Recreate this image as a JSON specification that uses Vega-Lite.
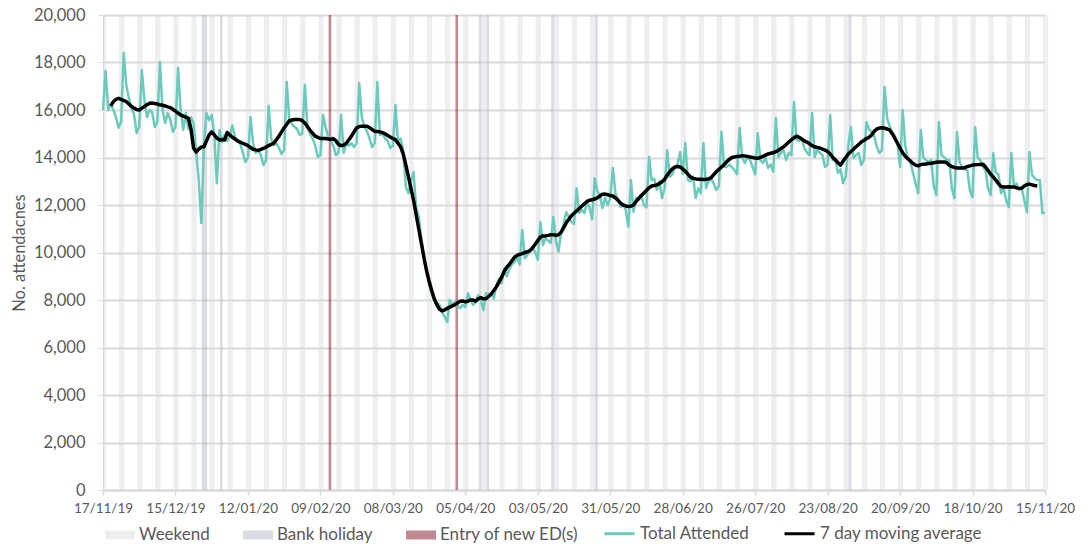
{
"$schema": "https://vega.github.io/schema/vega-lite/v6.json",
"width": 942,
"height": 475,
"autosize": {"type": "none"},
"padding": {"left": 103, "top": 15, "right": 45, "bottom": 55},
"background": "white",
"config": {
  "font": "Lato",
  "view": {"stroke": null},
  "axis": {"labelFont": "Lato", "titleFont": "Lato", "labelColor": "#595959", "titleColor": "#595959", "domainColor": "#d9d9d9", "tickColor": "#d9d9d9", "gridColor": "#d9d9d9"},
  "legend": {"labelFont": "Lato", "labelFontSize": 17, "labelColor": "#595959", "labelOffset": 4, "labelLimit": 400, "columnPadding": 28, "symbolSize": 900, "padding": 0}
},
"datasets": {
"days": [
{"d":"2019-11-17","t":16000},{"d":"2019-11-18","t":17650},{"d":"2019-11-19","t":16000},{"d":"2019-11-20","t":16250,"m":16170},{"d":"2019-11-21","t":16000,"m":16350},{"d":"2019-11-22","t":15700,"m":16450},{"d":"2019-11-23","t":15250,"m":16490},{"d":"2019-11-24","t":15500,"m":16450},{"d":"2019-11-25","t":18400,"m":16400},{"d":"2019-11-26","t":17050,"m":16350},{"d":"2019-11-27","t":16500,"m":16250},{"d":"2019-11-28","t":16100,"m":16150},{"d":"2019-11-29","t":15800,"m":16080},{"d":"2019-11-30","t":15030,"m":16020},
{"d":"2019-12-01","t":15300,"m":16000},{"d":"2019-12-02","t":17680,"m":16080},{"d":"2019-12-03","t":16420,"m":16150},{"d":"2019-12-04","t":15700,"m":16220},{"d":"2019-12-05","t":16000,"m":16280},{"d":"2019-12-06","t":15900,"m":16290},{"d":"2019-12-07","t":15280,"m":16270},{"d":"2019-12-08","t":15500,"m":16250},{"d":"2019-12-09","t":18020,"m":16220},{"d":"2019-12-10","t":16000,"m":16200},{"d":"2019-12-11","t":15450,"m":16170},{"d":"2019-12-12","t":15870,"m":16130},{"d":"2019-12-13","t":15600,"m":16100},{"d":"2019-12-14","t":15080,"m":16030},{"d":"2019-12-15","t":15300,"m":15950},{"d":"2019-12-16","t":17770,"m":15870},{"d":"2019-12-17","t":16000,"m":15790},{"d":"2019-12-18","t":15160,"m":15740},{"d":"2019-12-19","t":15870,"m":15700},{"d":"2019-12-20","t":15200,"m":15650},{"d":"2019-12-21","t":15700,"m":15200},{"d":"2019-12-22","t":15450,"m":14400},{"d":"2019-12-23","t":14230,"m":14230},{"d":"2019-12-24","t":13050,"m":14350},{"d":"2019-12-25","t":11240,"m":14440},{"d":"2019-12-26","t":14520,"m":14450},{"d":"2019-12-27","t":15870,"m":14700},{"d":"2019-12-28","t":15580,"m":14950},{"d":"2019-12-29","t":15790,"m":15080},{"d":"2019-12-30","t":14950,"m":14950},{"d":"2019-12-31","t":12920,"m":14820},
{"d":"2020-01-01","t":15160,"m":14740},{"d":"2020-01-02","t":14650,"m":14760},{"d":"2020-01-03","t":14950,"m":14740},{"d":"2020-01-04","t":14700,"m":15050},{"d":"2020-01-05","t":14900,"m":14950},{"d":"2020-01-06","t":15350,"m":14850},{"d":"2020-01-07","t":14860,"m":14780},{"d":"2020-01-08","t":14700,"m":14700},{"d":"2020-01-09","t":14600,"m":14650},{"d":"2020-01-10","t":14230,"m":14600},{"d":"2020-01-11","t":13810,"m":14550},{"d":"2020-01-12","t":14000,"m":14500},{"d":"2020-01-13","t":15700,"m":14420},{"d":"2020-01-14","t":14600,"m":14350},{"d":"2020-01-15","t":14190,"m":14320},{"d":"2020-01-16","t":14300,"m":14300},{"d":"2020-01-17","t":14100,"m":14340},{"d":"2020-01-18","t":13680,"m":14380},{"d":"2020-01-19","t":13900,"m":14440},{"d":"2020-01-20","t":16170,"m":14500},{"d":"2020-01-21","t":14800,"m":14550},{"d":"2020-01-22","t":14520,"m":14600},{"d":"2020-01-23","t":14600,"m":14750},{"d":"2020-01-24","t":14400,"m":14900},{"d":"2020-01-25","t":14150,"m":15080},{"d":"2020-01-26","t":14300,"m":15250},{"d":"2020-01-27","t":17180,"m":15400},{"d":"2020-01-28","t":15580,"m":15550},{"d":"2020-01-29","t":15400,"m":15580},{"d":"2020-01-30","t":15300,"m":15600},{"d":"2020-01-31","t":15200,"m":15600},
{"d":"2020-02-01","t":14950,"m":15600},{"d":"2020-02-02","t":15000,"m":15550},{"d":"2020-02-03","t":17050,"m":15450},{"d":"2020-02-04","t":15280,"m":15300},{"d":"2020-02-05","t":15000,"m":15150},{"d":"2020-02-06","t":14800,"m":15020},{"d":"2020-02-07","t":14500,"m":14900},{"d":"2020-02-08","t":14020,"m":14850},{"d":"2020-02-09","t":14100,"m":14800},{"d":"2020-02-10","t":15790,"m":14800},{"d":"2020-02-11","t":15280,"m":14800},{"d":"2020-02-12","t":14900,"m":14780},{"d":"2020-02-13","t":14700,"m":14760},{"d":"2020-02-14","t":14500,"m":14800},{"d":"2020-02-15","t":14100,"m":14700},{"d":"2020-02-16","t":14200,"m":14550},{"d":"2020-02-17","t":15790,"m":14500},{"d":"2020-02-18","t":14190,"m":14520},{"d":"2020-02-19","t":14600,"m":14600},{"d":"2020-02-20","t":14500,"m":14750},{"d":"2020-02-21","t":14600,"m":14900},{"d":"2020-02-22","t":14440,"m":15080},{"d":"2020-02-23","t":14600,"m":15250},{"d":"2020-02-24","t":17130,"m":15300},{"d":"2020-02-25","t":15700,"m":15320},{"d":"2020-02-26","t":15300,"m":15320},{"d":"2020-02-27","t":15100,"m":15320},{"d":"2020-02-28","t":14800,"m":15250},{"d":"2020-02-29","t":14440,"m":15180},
{"d":"2020-03-01","t":14600,"m":15100},{"d":"2020-03-02","t":17180,"m":15090},{"d":"2020-03-03","t":14950,"m":15080},{"d":"2020-03-04","t":15000,"m":15050},{"d":"2020-03-05","t":14800,"m":15000},{"d":"2020-03-06","t":14700,"m":14930},{"d":"2020-03-07","t":14400,"m":14860},{"d":"2020-03-08","t":14500,"m":14800},{"d":"2020-03-09","t":16210,"m":14750},{"d":"2020-03-10","t":14600,"m":14600},{"d":"2020-03-11","t":14800,"m":14450},{"d":"2020-03-12","t":14300,"m":14150},{"d":"2020-03-13","t":12770,"m":13700},{"d":"2020-03-14","t":12500,"m":13200},{"d":"2020-03-15","t":13000,"m":12700},{"d":"2020-03-16","t":13390,"m":12200},{"d":"2020-03-17","t":11900,"m":11600},{"d":"2020-03-18","t":11500,"m":11000},{"d":"2020-03-19","t":10600,"m":10400},{"d":"2020-03-20","t":9810,"m":9800},{"d":"2020-03-21","t":9200,"m":9250},{"d":"2020-03-22","t":8700,"m":8800},{"d":"2020-03-23","t":8290,"m":8400},{"d":"2020-03-24","t":8000,"m":8050},{"d":"2020-03-25","t":7900,"m":7800},{"d":"2020-03-26","t":7790,"m":7620},{"d":"2020-03-27","t":7500,"m":7540},{"d":"2020-03-28","t":7300,"m":7580},{"d":"2020-03-29","t":7070,"m":7650},{"d":"2020-03-30","t":8000,"m":7700},{"d":"2020-03-31","t":7800,"m":7750},
{"d":"2020-04-01","t":7900,"m":7800},{"d":"2020-04-02","t":7750,"m":7870},{"d":"2020-04-03","t":7660,"m":7950},{"d":"2020-04-04","t":7800,"m":7960},{"d":"2020-04-05","t":7700,"m":7920},{"d":"2020-04-06","t":8290,"m":7950},{"d":"2020-04-07","t":8000,"m":8000},{"d":"2020-04-08","t":7790,"m":8000},{"d":"2020-04-09","t":7900,"m":7950},{"d":"2020-04-10","t":8210,"m":8050},{"d":"2020-04-11","t":8000,"m":8100},{"d":"2020-04-12","t":7580,"m":8050},{"d":"2020-04-13","t":8290,"m":8050},{"d":"2020-04-14","t":8200,"m":8150},{"d":"2020-04-15","t":8300,"m":8250},{"d":"2020-04-16","t":8050,"m":8400},{"d":"2020-04-17","t":8600,"m":8550},{"d":"2020-04-18","t":8900,"m":8750},{"d":"2020-04-19","t":8700,"m":8950},{"d":"2020-04-20","t":9300,"m":9200},{"d":"2020-04-21","t":9000,"m":9380},{"d":"2020-04-22","t":9300,"m":9500},{"d":"2020-04-23","t":9500,"m":9650},{"d":"2020-04-24","t":9600,"m":9800},{"d":"2020-04-25","t":9810,"m":9880},{"d":"2020-04-26","t":9500,"m":9920},{"d":"2020-04-27","t":10950,"m":9950},{"d":"2020-04-28","t":9760,"m":10000},{"d":"2020-04-29","t":9900,"m":10030},{"d":"2020-04-30","t":10100,"m":10080},
{"d":"2020-05-01","t":10200,"m":10200},{"d":"2020-05-02","t":10000,"m":10350},{"d":"2020-05-03","t":9700,"m":10500},{"d":"2020-05-04","t":11280,"m":10650},{"d":"2020-05-05","t":10310,"m":10700},{"d":"2020-05-06","t":10600,"m":10700},{"d":"2020-05-07","t":10500,"m":10720},{"d":"2020-05-08","t":10400,"m":10750},{"d":"2020-05-09","t":11500,"m":10750},{"d":"2020-05-10","t":10500,"m":10720},{"d":"2020-05-11","t":10030,"m":10750},{"d":"2020-05-12","t":10820,"m":10850},{"d":"2020-05-13","t":11200,"m":11050},{"d":"2020-05-14","t":11700,"m":11250},{"d":"2020-05-15","t":11500,"m":11400},{"d":"2020-05-16","t":11300,"m":11550},{"d":"2020-05-17","t":11200,"m":11650},{"d":"2020-05-18","t":12710,"m":11750},{"d":"2020-05-19","t":11660,"m":11850},{"d":"2020-05-20","t":11800,"m":11950},{"d":"2020-05-21","t":11660,"m":12050},{"d":"2020-05-22","t":12100,"m":12150},{"d":"2020-05-23","t":11900,"m":12200},{"d":"2020-05-24","t":11400,"m":12220},{"d":"2020-05-25","t":13130,"m":12250},{"d":"2020-05-26","t":12600,"m":12300},{"d":"2020-05-27","t":12400,"m":12380},{"d":"2020-05-28","t":11870,"m":12450},{"d":"2020-05-29","t":12300,"m":12460},{"d":"2020-05-30","t":12000,"m":12430},{"d":"2020-05-31","t":12290,"m":12400},
{"d":"2020-06-01","t":13560,"m":12380},{"d":"2020-06-02","t":12500,"m":12300},{"d":"2020-06-03","t":12200,"m":12200},{"d":"2020-06-04","t":11920,"m":12080},{"d":"2020-06-05","t":12000,"m":12000},{"d":"2020-06-06","t":11790,"m":11960},{"d":"2020-06-07","t":11080,"m":11940},{"d":"2020-06-08","t":13050,"m":11950},{"d":"2020-06-09","t":11720,"m":12000},{"d":"2020-06-10","t":12300,"m":12150},{"d":"2020-06-11","t":12200,"m":12280},{"d":"2020-06-12","t":12400,"m":12400},{"d":"2020-06-13","t":12000,"m":12500},{"d":"2020-06-14","t":11900,"m":12620},{"d":"2020-06-15","t":14020,"m":12720},{"d":"2020-06-16","t":13050,"m":12800},{"d":"2020-06-17","t":13100,"m":12820},{"d":"2020-06-18","t":12630,"m":12850},{"d":"2020-06-19","t":13000,"m":12900},{"d":"2020-06-20","t":12290,"m":12980},{"d":"2020-06-21","t":12700,"m":13080},{"d":"2020-06-22","t":14310,"m":13250},{"d":"2020-06-23","t":13180,"m":13400},{"d":"2020-06-24","t":13300,"m":13520},{"d":"2020-06-25","t":13560,"m":13600},{"d":"2020-06-26","t":13700,"m":13620},{"d":"2020-06-27","t":14230,"m":13600},{"d":"2020-06-28","t":13300,"m":13520},{"d":"2020-06-29","t":14610,"m":13420},{"d":"2020-06-30","t":13050,"m":13300},
{"d":"2020-07-01","t":13000,"m":13180},{"d":"2020-07-02","t":13200,"m":13120},{"d":"2020-07-03","t":12290,"m":13100},{"d":"2020-07-04","t":12700,"m":13080},{"d":"2020-07-05","t":12500,"m":13080},{"d":"2020-07-06","t":14610,"m":13070},{"d":"2020-07-07","t":12710,"m":13080},{"d":"2020-07-08","t":13000,"m":13100},{"d":"2020-07-09","t":13100,"m":13150},{"d":"2020-07-10","t":12900,"m":13280},{"d":"2020-07-11","t":12630,"m":13400},{"d":"2020-07-12","t":12800,"m":13500},{"d":"2020-07-13","t":15080,"m":13600},{"d":"2020-07-14","t":13600,"m":13700},{"d":"2020-07-15","t":13600,"m":13820},{"d":"2020-07-16","t":13700,"m":13920},{"d":"2020-07-17","t":13600,"m":14000},{"d":"2020-07-18","t":13470,"m":14020},{"d":"2020-07-19","t":13300,"m":14040},{"d":"2020-07-20","t":15240,"m":14050},{"d":"2020-07-21","t":14000,"m":14080},{"d":"2020-07-22","t":13770,"m":14060},{"d":"2020-07-23","t":14000,"m":14050},{"d":"2020-07-24","t":13900,"m":14020},{"d":"2020-07-25","t":13600,"m":14000},{"d":"2020-07-26","t":13300,"m":13980},{"d":"2020-07-27","t":15030,"m":13970},{"d":"2020-07-28","t":13900,"m":14000},{"d":"2020-07-29","t":13770,"m":14050},{"d":"2020-07-30","t":14000,"m":14100},{"d":"2020-07-31","t":13560,"m":14150},
{"d":"2020-08-01","t":13700,"m":14180},{"d":"2020-08-02","t":13400,"m":14200},{"d":"2020-08-03","t":15660,"m":14250},{"d":"2020-08-04","t":14020,"m":14300},{"d":"2020-08-05","t":14200,"m":14380},{"d":"2020-08-06","t":14300,"m":14450},{"d":"2020-08-07","t":13890,"m":14550},{"d":"2020-08-08","t":14200,"m":14650},{"d":"2020-08-09","t":14100,"m":14750},{"d":"2020-08-10","t":16340,"m":14830},{"d":"2020-08-11","t":14740,"m":14900},{"d":"2020-08-12","t":14700,"m":14850},{"d":"2020-08-13","t":14800,"m":14780},{"d":"2020-08-14","t":14400,"m":14700},{"d":"2020-08-15","t":14200,"m":14650},{"d":"2020-08-16","t":14100,"m":14580},{"d":"2020-08-17","t":15870,"m":14500},{"d":"2020-08-18","t":14020,"m":14450},{"d":"2020-08-19","t":14300,"m":14420},{"d":"2020-08-20","t":14200,"m":14400},{"d":"2020-08-21","t":14100,"m":14350},{"d":"2020-08-22","t":13600,"m":14310},{"d":"2020-08-23","t":13700,"m":14250},{"d":"2020-08-24","t":15790,"m":14150},{"d":"2020-08-25","t":13890,"m":14000},{"d":"2020-08-26","t":13900,"m":13900},{"d":"2020-08-27","t":13350,"m":13780},{"d":"2020-08-28","t":13500,"m":13680},{"d":"2020-08-29","t":12920,"m":13850},{"d":"2020-08-30","t":13200,"m":14000},{"d":"2020-08-31","t":14500,"m":14150},
{"d":"2020-09-01","t":15280,"m":14250},{"d":"2020-09-02","t":13980,"m":14350},{"d":"2020-09-03","t":14100,"m":14450},{"d":"2020-09-04","t":14190,"m":14550},{"d":"2020-09-05","t":13680,"m":14650},{"d":"2020-09-06","t":13900,"m":14720},{"d":"2020-09-07","t":15490,"m":14800},{"d":"2020-09-08","t":15200,"m":14850},{"d":"2020-09-09","t":15070,"m":14950},{"d":"2020-09-10","t":14900,"m":15100},{"d":"2020-09-11","t":14450,"m":15200},{"d":"2020-09-12","t":14190,"m":15240},{"d":"2020-09-13","t":14300,"m":15250},{"d":"2020-09-14","t":16970,"m":15240},{"d":"2020-09-15","t":15660,"m":15200},{"d":"2020-09-16","t":15300,"m":15150},{"d":"2020-09-17","t":15070,"m":15000},{"d":"2020-09-18","t":14900,"m":14800},{"d":"2020-09-19","t":14600,"m":14600},{"d":"2020-09-20","t":13600,"m":14400},{"d":"2020-09-21","t":16000,"m":14200},{"d":"2020-09-22","t":14500,"m":14050},{"d":"2020-09-23","t":13980,"m":13950},{"d":"2020-09-24","t":13800,"m":13850},{"d":"2020-09-25","t":13350,"m":13750},{"d":"2020-09-26","t":12900,"m":13680},{"d":"2020-09-27","t":12500,"m":13650},{"d":"2020-09-28","t":15160,"m":13700},{"d":"2020-09-29","t":14000,"m":13720},{"d":"2020-09-30","t":13890,"m":13730},
{"d":"2020-10-01","t":13800,"m":13750},{"d":"2020-10-02","t":13890,"m":13760},{"d":"2020-10-03","t":12800,"m":13780},{"d":"2020-10-04","t":12420,"m":13800},{"d":"2020-10-05","t":15490,"m":13810},{"d":"2020-10-06","t":14100,"m":13810},{"d":"2020-10-07","t":14020,"m":13810},{"d":"2020-10-08","t":13900,"m":13780},{"d":"2020-10-09","t":13890,"m":13680},{"d":"2020-10-10","t":12700,"m":13620},{"d":"2020-10-11","t":12290,"m":13580},{"d":"2020-10-12","t":15070,"m":13560},{"d":"2020-10-13","t":13800,"m":13560},{"d":"2020-10-14","t":13600,"m":13560},{"d":"2020-10-15","t":13500,"m":13570},{"d":"2020-10-16","t":13470,"m":13620},{"d":"2020-10-17","t":12600,"m":13650},{"d":"2020-10-18","t":12330,"m":13680},{"d":"2020-10-19","t":15280,"m":13690},{"d":"2020-10-20","t":14000,"m":13700},{"d":"2020-10-21","t":13890,"m":13710},{"d":"2020-10-22","t":13600,"m":13720},{"d":"2020-10-23","t":13470,"m":13600},{"d":"2020-10-24","t":12700,"m":13450},{"d":"2020-10-25","t":12420,"m":13300},{"d":"2020-10-26","t":14190,"m":13180},{"d":"2020-10-27","t":13350,"m":13050},{"d":"2020-10-28","t":13300,"m":12900},{"d":"2020-10-29","t":12500,"m":12780},{"d":"2020-10-30","t":12700,"m":12760},{"d":"2020-10-31","t":12200,"m":12760},
{"d":"2020-11-01","t":11910,"m":12770},{"d":"2020-11-02","t":14190,"m":12760},{"d":"2020-11-03","t":12760,"m":12760},{"d":"2020-11-04","t":12900,"m":12720},{"d":"2020-11-05","t":12630,"m":12700},{"d":"2020-11-06","t":12700,"m":12710},{"d":"2020-11-07","t":12200,"m":12800},{"d":"2020-11-08","t":11700,"m":12860},{"d":"2020-11-09","t":14230,"m":12880},{"d":"2020-11-10","t":13260,"m":12850},{"d":"2020-11-11","t":13130,"m":12820},{"d":"2020-11-12","t":13050,"m":12800},{"d":"2020-11-13","t":13050},{"d":"2020-11-14","t":11660},{"d":"2020-11-15","t":11660}
],
"bands": [
{"d":"2019-11-17","k":"Weekend"},{"d":"2019-11-23","k":"Weekend"},{"d":"2019-11-24","k":"Weekend"},{"d":"2019-11-30","k":"Weekend"},{"d":"2019-12-01","k":"Weekend"},{"d":"2019-12-07","k":"Weekend"},{"d":"2019-12-08","k":"Weekend"},{"d":"2019-12-14","k":"Weekend"},{"d":"2019-12-15","k":"Weekend"},{"d":"2019-12-21","k":"Weekend"},{"d":"2019-12-22","k":"Weekend"},{"d":"2019-12-28","k":"Weekend"},{"d":"2019-12-29","k":"Weekend"},{"d":"2020-01-04","k":"Weekend"},{"d":"2020-01-05","k":"Weekend"},{"d":"2020-01-11","k":"Weekend"},{"d":"2020-01-12","k":"Weekend"},{"d":"2020-01-18","k":"Weekend"},{"d":"2020-01-19","k":"Weekend"},{"d":"2020-01-25","k":"Weekend"},{"d":"2020-01-26","k":"Weekend"},{"d":"2020-02-01","k":"Weekend"},{"d":"2020-02-02","k":"Weekend"},{"d":"2020-02-08","k":"Weekend"},{"d":"2020-02-09","k":"Weekend"},{"d":"2020-02-15","k":"Weekend"},{"d":"2020-02-16","k":"Weekend"},{"d":"2020-02-22","k":"Weekend"},{"d":"2020-02-23","k":"Weekend"},{"d":"2020-02-29","k":"Weekend"},{"d":"2020-03-01","k":"Weekend"},{"d":"2020-03-07","k":"Weekend"},{"d":"2020-03-08","k":"Weekend"},{"d":"2020-03-14","k":"Weekend"},{"d":"2020-03-15","k":"Weekend"},{"d":"2020-03-21","k":"Weekend"},{"d":"2020-03-22","k":"Weekend"},{"d":"2020-03-28","k":"Weekend"},{"d":"2020-03-29","k":"Weekend"},{"d":"2020-04-04","k":"Weekend"},{"d":"2020-04-05","k":"Weekend"},{"d":"2020-04-11","k":"Weekend"},{"d":"2020-04-12","k":"Weekend"},{"d":"2020-04-18","k":"Weekend"},{"d":"2020-04-19","k":"Weekend"},{"d":"2020-04-25","k":"Weekend"},{"d":"2020-04-26","k":"Weekend"},{"d":"2020-05-02","k":"Weekend"},{"d":"2020-05-03","k":"Weekend"},{"d":"2020-05-09","k":"Weekend"},{"d":"2020-05-10","k":"Weekend"},{"d":"2020-05-16","k":"Weekend"},{"d":"2020-05-17","k":"Weekend"},{"d":"2020-05-23","k":"Weekend"},{"d":"2020-05-24","k":"Weekend"},{"d":"2020-05-30","k":"Weekend"},{"d":"2020-05-31","k":"Weekend"},{"d":"2020-06-06","k":"Weekend"},{"d":"2020-06-07","k":"Weekend"},{"d":"2020-06-13","k":"Weekend"},{"d":"2020-06-14","k":"Weekend"},{"d":"2020-06-20","k":"Weekend"},{"d":"2020-06-21","k":"Weekend"},{"d":"2020-06-27","k":"Weekend"},{"d":"2020-06-28","k":"Weekend"},{"d":"2020-07-04","k":"Weekend"},{"d":"2020-07-05","k":"Weekend"},{"d":"2020-07-11","k":"Weekend"},{"d":"2020-07-12","k":"Weekend"},{"d":"2020-07-18","k":"Weekend"},{"d":"2020-07-19","k":"Weekend"},{"d":"2020-07-25","k":"Weekend"},{"d":"2020-07-26","k":"Weekend"},{"d":"2020-08-01","k":"Weekend"},{"d":"2020-08-02","k":"Weekend"},{"d":"2020-08-08","k":"Weekend"},{"d":"2020-08-09","k":"Weekend"},{"d":"2020-08-15","k":"Weekend"},{"d":"2020-08-16","k":"Weekend"},{"d":"2020-08-22","k":"Weekend"},{"d":"2020-08-23","k":"Weekend"},{"d":"2020-08-29","k":"Weekend"},{"d":"2020-08-30","k":"Weekend"},{"d":"2020-09-05","k":"Weekend"},{"d":"2020-09-06","k":"Weekend"},{"d":"2020-09-12","k":"Weekend"},{"d":"2020-09-13","k":"Weekend"},{"d":"2020-09-19","k":"Weekend"},{"d":"2020-09-20","k":"Weekend"},{"d":"2020-09-26","k":"Weekend"},{"d":"2020-09-27","k":"Weekend"},{"d":"2020-10-03","k":"Weekend"},{"d":"2020-10-04","k":"Weekend"},{"d":"2020-10-10","k":"Weekend"},{"d":"2020-10-11","k":"Weekend"},{"d":"2020-10-17","k":"Weekend"},{"d":"2020-10-18","k":"Weekend"},{"d":"2020-10-24","k":"Weekend"},{"d":"2020-10-25","k":"Weekend"},{"d":"2020-10-31","k":"Weekend"},{"d":"2020-11-01","k":"Weekend"},{"d":"2020-11-07","k":"Weekend"},{"d":"2020-11-08","k":"Weekend"},{"d":"2020-11-14","k":"Weekend"},{"d":"2020-11-15","k":"Weekend"},
{"d":"2019-12-25","k":"Bank holiday"},{"d":"2019-12-26","k":"Bank holiday"},{"d":"2020-01-01","k":"Bank holiday"},{"d":"2020-04-10","k":"Bank holiday"},{"d":"2020-04-13","k":"Bank holiday"},{"d":"2020-05-08","k":"Bank holiday"},{"d":"2020-05-25","k":"Bank holiday"},{"d":"2020-08-31","k":"Bank holiday"},
{"d":"2020-02-12","k":"Entry of new ED(s)"},{"d":"2020-04-01","k":"Entry of new ED(s)"}
]
},
"layer": [
{
  "data": {"name": "bands"},
  "mark": {"type": "bar", "opacity": 0.5, "binSpacing": 0},
  "encoding": {
    "x": {"field": "d", "type": "temporal", "timeUnit": "utcyearmonthdate",
      "scale": {"type": "utc", "domain": [{"year": 2019, "month": 11, "date": 17, "utc": true}, {"year": 2020, "month": 11, "date": 15, "utc": true}]},
      "axis": {"title": null, "format": "%d/%m/%y", "grid": false, "labelFontSize": 13.5, "labelPadding": 6, "tickSize": 5, "tickWidth": 1.5, "domainWidth": 2, "labelOverlap": false, "labelFlush": false,
        "values": [
          {"year": 2019, "month": 11, "date": 17, "utc": true}, {"year": 2019, "month": 12, "date": 15, "utc": true},
          {"year": 2020, "month": 1, "date": 12, "utc": true}, {"year": 2020, "month": 2, "date": 9, "utc": true},
          {"year": 2020, "month": 3, "date": 8, "utc": true}, {"year": 2020, "month": 4, "date": 5, "utc": true},
          {"year": 2020, "month": 5, "date": 3, "utc": true}, {"year": 2020, "month": 5, "date": 31, "utc": true},
          {"year": 2020, "month": 6, "date": 28, "utc": true}, {"year": 2020, "month": 7, "date": 26, "utc": true},
          {"year": 2020, "month": 8, "date": 23, "utc": true}, {"year": 2020, "month": 9, "date": 20, "utc": true},
          {"year": 2020, "month": 10, "date": 18, "utc": true}, {"year": 2020, "month": 11, "date": 15, "utc": true}
        ]}},
    "y": {"datum": 20000, "type": "quantitative", "scale": {"domain": [0, 20000]},
      "axis": {"title": "No. attendacnes", "values": [0,2000,4000,6000,8000,10000,12000,14000,16000,18000,20000], "labelExpr": "format(datum.value, ',')", "labelFontSize": 16.5, "labelPadding": 13, "tickSize": 5, "grid": true, "gridWidth": 2, "domainWidth": 1, "titleFontSize": 16.5, "titleFontWeight": "normal", "titlePadding": 6}},
    "y2": {"datum": 0},
    "color": {"field": "k", "type": "nominal",
      "scale": {"domain": ["Weekend", "Bank holiday", "Entry of new ED(s)"], "range": ["#dddee2", "#b3b9c1", "#811123"]},
      "legend": {"title": null, "orient": "none", "legendX": 2, "legendY": 505, "direction": "horizontal", "columnPadding": 33, "symbolType": "M-1,-0.3H1V0.3H-1Z", "symbolOpacity": 0.5, "symbolStrokeWidth": 0}}
  }
},
{
  "data": {"name": "days"},
  "mark": {"type": "line", "strokeWidth": 2.5, "strokeJoin": "round"},
  "encoding": {
    "x": {"field": "d", "type": "temporal"},
    "y": {"field": "t", "type": "quantitative", "title": "No. attendacnes"},
    "stroke": {"datum": "Total Attended", "type": "nominal",
      "scale": {"domain": ["Total Attended", "7 day moving average"], "range": ["#6ccabd", "#000000"]},
      "legend": {"title": null, "orient": "none", "legendX": 500, "legendY": 502, "direction": "horizontal", "symbolType": "stroke", "symbolStrokeWidth": 3}}
  }
},
{
  "data": {"name": "days"},
  "mark": {"type": "line", "strokeWidth": 3.5, "strokeJoin": "round"},
  "encoding": {
    "x": {"field": "d", "type": "temporal"},
    "y": {"field": "m", "type": "quantitative", "title": "No. attendacnes"},
    "stroke": {"datum": "7 day moving average", "type": "nominal"}
  }
}
]
}
